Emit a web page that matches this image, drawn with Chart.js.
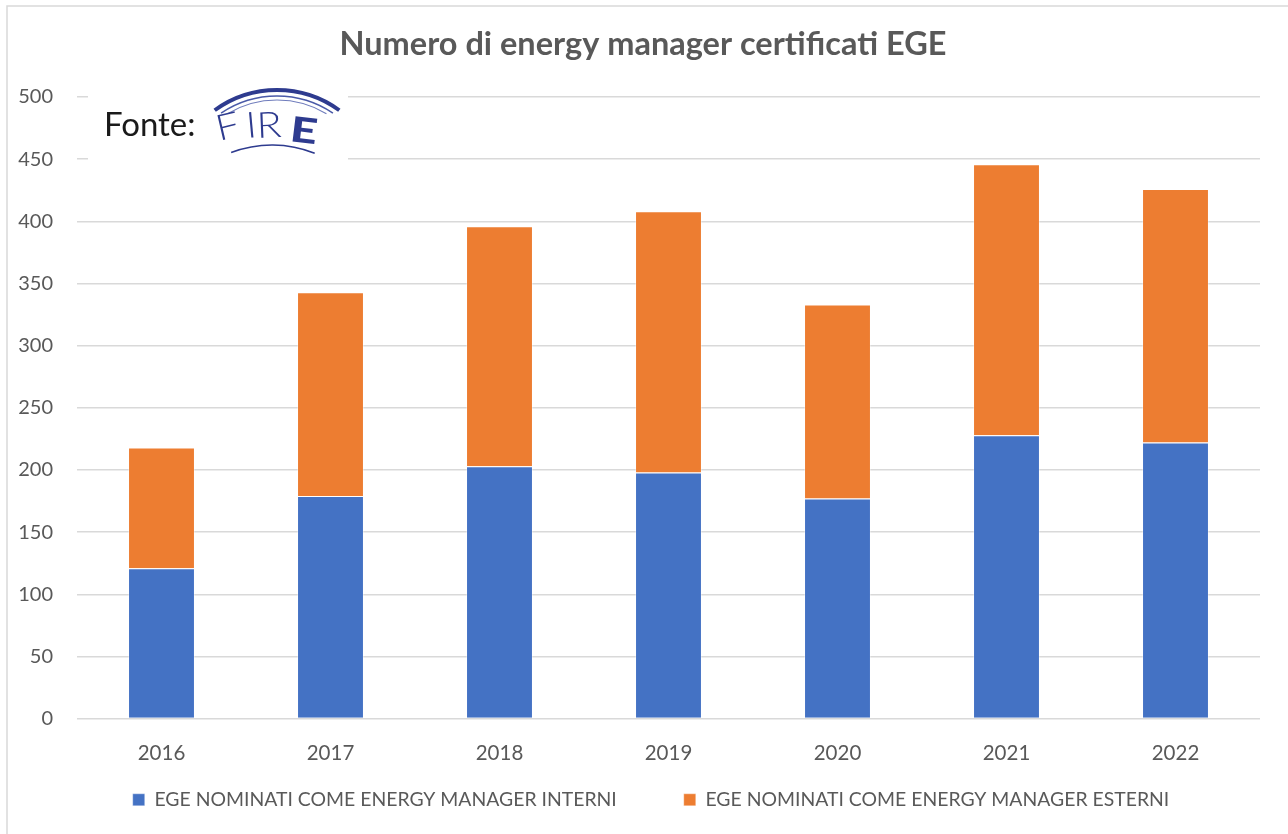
<!DOCTYPE html>
<html><head><meta charset="utf-8">
<script src="https://cdn.jsdelivr.net/npm/chart.js@4.4.1/dist/chart.umd.min.js"></script>
<style>html,body{margin:0;padding:0;background:#fff;overflow:hidden}canvas{display:block}</style>
</head><body>
<canvas id="c" width="1288" height="834"></canvas>
<script>
// ---- data ----
const categories = ['2016', '2017', '2018', '2019', '2020', '2021', '2022'];
const interni = [121, 179, 203, 198, 177, 228, 222];
const esterni = [97, 164, 193, 210, 156, 218, 204];
const seriesNames = ['EGE NOMINATI COME ENERGY MANAGER INTERNI', 'EGE NOMINATI COME ENERGY MANAGER ESTERNI'];
const yMin = 0, yMax = 500, yStep = 50;
const titleText = 'Numero di energy manager certificati EGE';
const sourceLabel = 'Fonte:';
const logoText = 'FIRE';

const GREY = '#595959';
const FONT = 'Lato, "Liberation Sans", sans-serif';

const framePlugin = {
  id: 'frame',
  beforeDraw(chart) {
    const ctx = chart.ctx;
    ctx.save();
    ctx.fillStyle = '#fff';
    ctx.fillRect(0, 0, chart.width, chart.height);
    ctx.strokeStyle = '#d9d9d9';
    ctx.lineWidth = 1.5;
    ctx.strokeRect(7, 6, chart.width + 20, chart.height + 20);
    ctx.restore();
  },
  afterLayout(chart) {
    // shift the legend row and the title to the right, as in the reference
    chart.legend.left += 21;
    chart.legend.right += 21;
    chart.titleBlock.left += 13;
    chart.titleBlock.right += 13;
  }
};

const logoPlugin = {
  id: 'logo',
  afterDraw(chart) {
    const ctx = chart.ctx;
    ctx.save();
    ctx.fillStyle = '#fff';
    ctx.fillRect(88, 84, 260, 86);
    // "Fonte:"
    ctx.fillStyle = '#1a1a1a';
    ctx.font = '33px ' + FONT;
    ctx.textBaseline = 'alphabetic';
    ctx.textAlign = 'left';
    ctx.fillText(sourceLabel, 104, 136);
    // arcs of the logo
    const navy = '#2e3b8f';
    const arc = (cx, cy, r, w, a0, a1, col) => {
      ctx.strokeStyle = col || navy;
      ctx.lineWidth = w;
      ctx.beginPath();
      ctx.arc(cx, cy, r, a0, a1);
      ctx.stroke();
    };
    const d = Math.PI / 180;
    arc(277, 196, 106, 4, -126 * d, -54 * d);
    arc(277, 196, 100, 1.6, -124 * d, -56 * d, '#4a5aa8');
    arc(277, 196, 96, 1.1, -121 * d, -59 * d, '#6f7cbc');
    arc(272, 259, 114, 1.5, -111 * d, -68 * d);
    // letters of the logo
    ctx.fillStyle = navy;
    const letters = logoText.split('');
    const pos = [[219, 141], [247, 138], [257, 138], [289, 141]];
    letters.forEach((ch, i) => {
      ctx.save();
      const [x, y] = pos[i];
      const ang = (x + 12 - 277) / 200;
      ctx.translate(x, y);
      ctx.rotate(ang);
      if (i === 3) {
        ctx.scale(1.35, 1);
        ctx.font = '900 35px ' + FONT;
      } else {
        ctx.scale(1.15, 1);
        ctx.font = '300 36px ' + FONT;
      }
      ctx.fillText(ch, 0, 0);
      ctx.restore();
    });
    ctx.restore();
  }
};

new Chart(document.getElementById('c'), {
  type: 'bar',
  data: {
    labels: categories,
    datasets: [
      { label: seriesNames[0], data: interni, backgroundColor: '#4472C4', borderColor: 'rgba(255,255,255,0.35)', borderWidth: 1 },
      { label: seriesNames[1], data: esterni, backgroundColor: '#ED7D31', borderColor: 'rgba(255,255,255,0.35)', borderWidth: 1 }
    ]
  },
  options: {
    responsive: false,
    animation: false,
    devicePixelRatio: 1,
    layout: { padding: { left: 0, right: 28, top: 0, bottom: 14.5 } },
    plugins: {
      title: {
        display: true,
        text: titleText,
        color: GREY,
        font: { family: FONT, size: 32.5, weight: 'bold' },
        padding: { top: 25.5, bottom: 32.5 }
      },
      legend: {
        position: 'bottom',
        labels: {
          color: GREY,
          font: { family: FONT, size: 19.4 },
          boxWidth: 12,
          boxHeight: 12,
          padding: 67
        }
      },
      tooltip: { enabled: false }
    },
    scales: {
      x: {
        stacked: true,
        grid: { display: false, drawTicks: false },
        border: { display: false },
        ticks: { color: GREY, font: { family: FONT, size: 20.5 }, padding: 22 },
        afterFit(scale) {
          scale.height = 4.5;
          scale._computeLabelArea = () => undefined; // let labels draw below the thin axis box
        }
      },
      y: {
        stacked: true,
        min: yMin,
        max: yMax,
        grid: { color: '#d9d9d9', lineWidth: 1.5, drawTicks: false },
        border: { display: false },
        ticks: { stepSize: yStep, color: GREY, font: { family: FONT, size: 20 }, padding: 24 },
        afterFit(scale) { scale.width = 77; }
      }
    },
    datasets: { bar: { categoryPercentage: 1, barPercentage: 0.396 } }
  },
  plugins: [framePlugin, logoPlugin]
});
</script>
</body></html>
